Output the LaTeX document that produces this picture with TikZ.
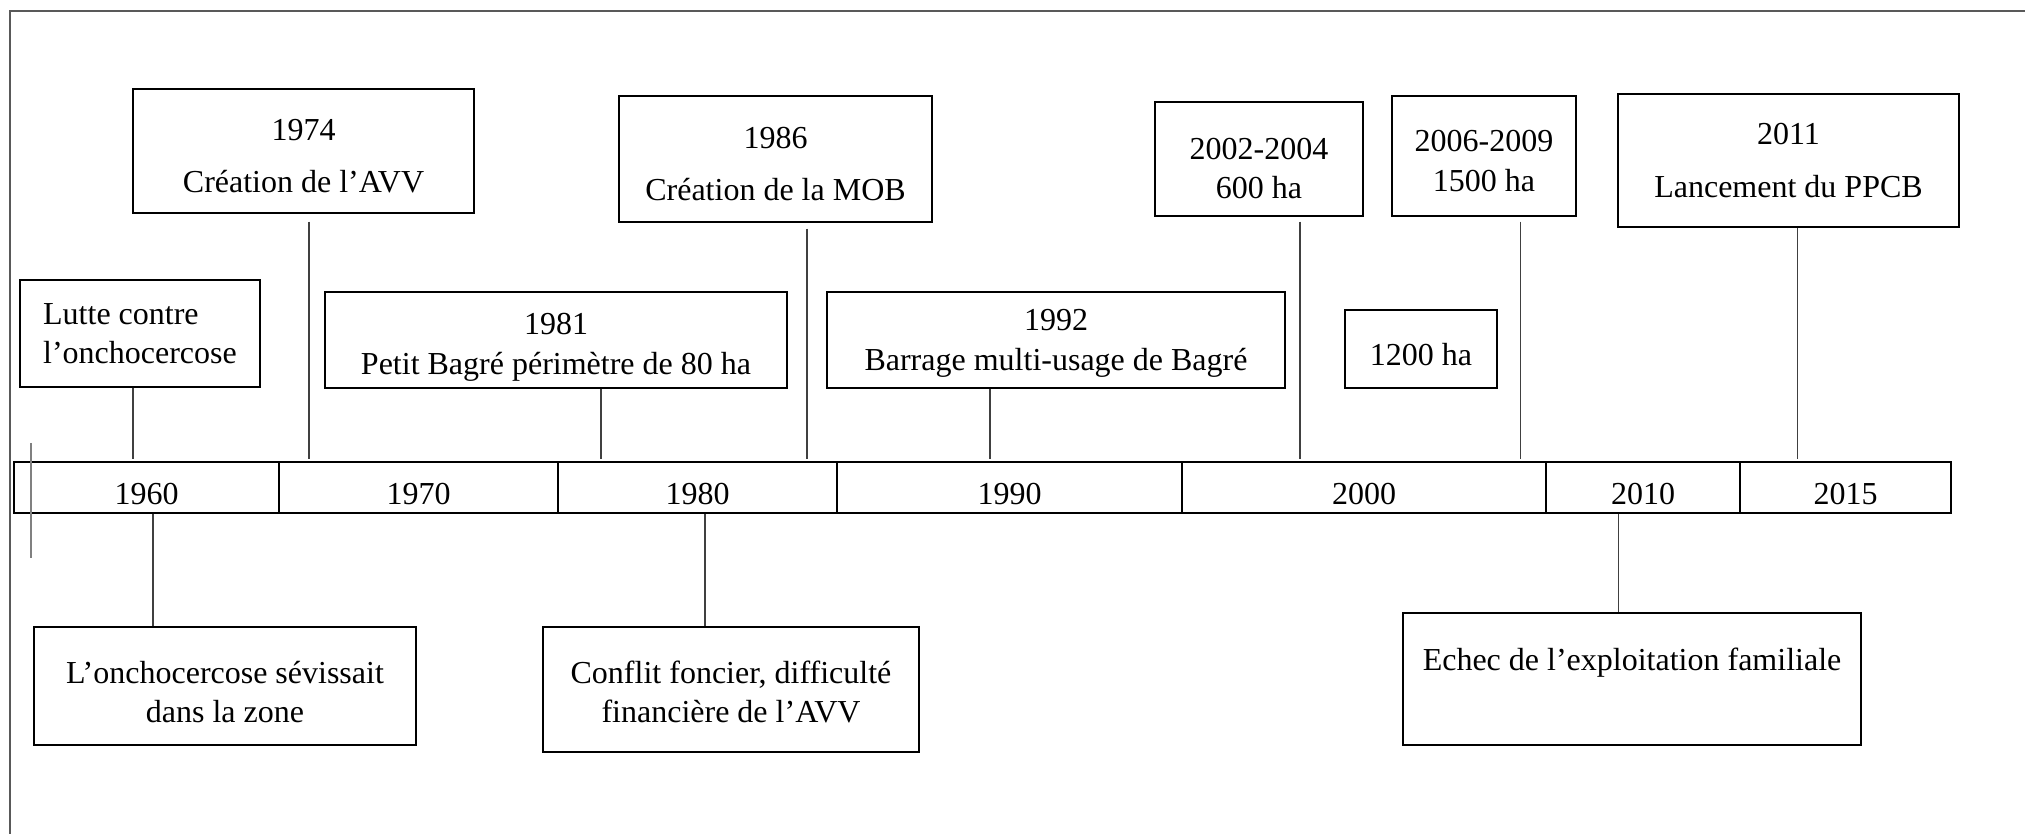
\documentclass[tikz,border=0pt]{standalone}
\usepackage{fontspec}
\setmainfont{Liberation Serif}
\newcommand\padtop[1]{\rule{0pt}{#1}}
\tikzset{
  evbox/.style={draw, line width=0.4pt, align=center, inner sep=0pt, font=\fontsize{9.1}{11.2}\selectfont},
  loose/.style={font=\fontsize{9.1}{14.8}\selectfont},
  cell/.style={draw, line width=0.6pt, inner sep=0pt, minimum height=0.51cm, text height=0.35cm, font=\fontsize{9.1}{11}\selectfont},
  link/.style={draw=black!75, line width=0.3pt},
  frame/.style={draw=black!65, line width=0.6pt}
}
\begin{document}
\begin{tikzpicture}[x=0.01cm, y=-0.01cm]
\useasboundingbox (0,0) rectangle (2025,834);
\draw[frame] (10,834) -- (10,11) -- (2025,11);
\node at (146.5,487.5) [cell, minimum width=2.65cm](c1960){1960};
\node at (418.5,487.5) [cell, minimum width=2.79cm](c1970){1970};
\node at (697.5,487.5) [cell, minimum width=2.79cm](c1980){1980};
\node at (1009.5,487.5) [cell, minimum width=3.45cm](c1990){1990};
\node at (1364,487.5) [cell, minimum width=3.64cm](c2000){2000};
\node at (1643,487.5) [cell, minimum width=1.94cm](c2010){2010};
\node at (1845.5,487.5) [cell, minimum width=2.11cm](c2015){2015};
\node at (140,333.5) [evbox, align=left, minimum width=2.4cm, minimum height=1.07cm](lutte){Lutte contre\\l’onchocercose};
\node at (303.5,151) [evbox, loose, minimum width=3.41cm, minimum height=1.24cm](aavv){\padtop{9pt}1974\\Création de l’AVV};
\node at (556,340) [evbox, minimum width=4.62cm, minimum height=0.96cm](bagre){\padtop{10.2pt}1981\\Petit Bagré périmètre de 80 ha};
\node at (775.5,159) [evbox, loose, minimum width=3.13cm, minimum height=1.26cm](mob){\padtop{8.8pt}1986\\Création de la MOB};
\node at (1056,340) [evbox, minimum width=4.58cm, minimum height=0.96cm](barrage){\padtop{7.9pt}1992\\Barrage multi-usage de Bagré};
\node at (1259,159) [evbox, minimum width=2.08cm, minimum height=1.14cm](ha600){\padtop{11.3pt}2002-2004\\600 ha};
\node at (1484,156) [evbox, minimum width=1.84cm, minimum height=1.2cm](ha1500){\padtop{9pt}2006-2009\\1500 ha};
\node at (1421,349) [evbox, minimum width=1.52cm, minimum height=0.78cm](ha1200){\padtop{9.6pt}1200 ha};
\node at (1788.5,160.5) [evbox, loose, minimum width=3.41cm, minimum height=1.33cm](ppcb){2011\\Lancement du PPCB};
\node at (225,686) [evbox, minimum width=3.82cm, minimum height=1.18cm](sevir){\padtop{9.6pt}L’onchocercose sévissait\\dans la zone};
\node at (731,689.5) [evbox, minimum width=3.76cm, minimum height=1.25cm](conflit){\padtop{7.9pt}Conflit foncier, difficulté\\financière de l’AVV};
\node at (1632,679) [evbox, text depth=0.39cm, minimum width=4.58cm, minimum height=1.32cm](echec){Echec de l’exploitation familiale};
\coordinate (k1960) at (133,459);
\coordinate (k1974) at (309,459);
\coordinate (k1981) at (601,459);
\coordinate (k1986) at (807,459);
\coordinate (k1992) at (990,459);
\coordinate (k2002) at (1300,459);
\coordinate (k2006) at (1520,459);
\coordinate (k2011) at (1797,459);
\coordinate (d1960) at (153,514);
\coordinate (d1980) at (705,514);
\coordinate (d2010) at (1618,514);
\draw[link] (lutte.south -| k1960) -- (k1960);
\draw[link] ([yshift=-0.08cm]aavv.south -| k1974) -- (k1974);
\draw[link] (bagre.south -| k1981) -- (k1981);
\draw[link] ([yshift=-0.06cm]mob.south -| k1986) -- (k1986);
\draw[link] (barrage.south -| k1992) -- (k1992);
\draw[link] ([yshift=-0.05cm]ha600.south -| k2002) -- (k2002);
\draw[link] ([yshift=-0.05cm]ha1500.south -| k2006) -- (k2006);
\draw[link] (ppcb.south -| k2011) -- (k2011);
\draw[link] (d1960) -- (sevir.north -| d1960);
\draw[link] (d1980) -- (conflit.north -| d1980);
\draw[link] (d2010) -- (echec.north -| d2010);
\draw[draw=black!50, line width=0.5pt] (31,443) -- (31,558);
\end{tikzpicture}
\end{document}
